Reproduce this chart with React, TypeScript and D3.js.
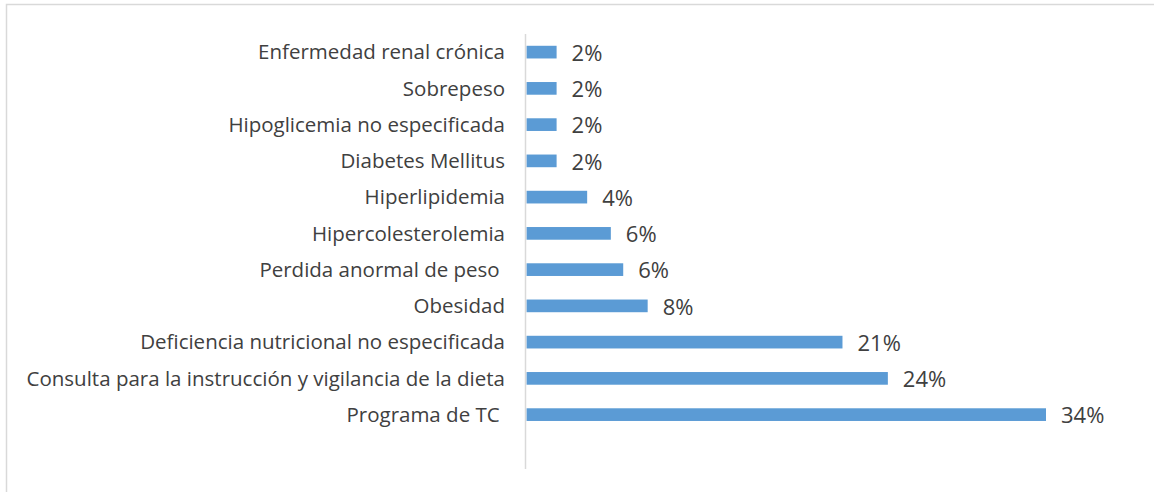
import React from "react";
import * as d3 from "d3";

const categories: string[] = [
  "Enfermedad renal crónica",
  "Sobrepeso",
  "Hipoglicemia no especificada",
  "Diabetes Mellitus",
  "Hiperlipidemia",
  "Hipercolesterolemia",
  "Perdida anormal de peso ",
  "Obesidad",
  "Deficiencia nutricional no especificada",
  "Consulta para la instrucción y vigilancia de la dieta",
  "Programa de TC ",
];

const values: number[] = [
  0.0197, 0.0197, 0.0197, 0.0197, 0.0397, 0.0552, 0.0633, 0.0793, 0.2068, 0.2365, 0.34,
];

const W = 1154;
const H = 492;
const axisX = 526.5;
const top = 34;
const step = 36.25;

export default function App() {
  const x = d3.scaleLinear().domain([0, 0.34]).range([axisX, 1046]);
  const y = d3
    .scaleBand<string>()
    .domain(categories)
    .range([top, top + step * categories.length])
    .paddingInner(0.65)
    .paddingOuter(0.325);
  const fmt = d3.format(".0%");
  const font = "'Open Sans', sans-serif";
  const axisBottom = top + step * (categories.length + 1);

  return (
    <div style={{ position: "absolute", left: 0, top: 0 }}>
      <svg width={W} height={H} style={{ display: "block" }}>
        <rect x={0} y={0} width={W} height={H} fill="#fff" />
        <rect x={6.5} y={4.5} width={W + 20} height={H + 20} fill="none" stroke="#d9d9d9" strokeWidth={1.5} />
        {categories.map((c, i) => {
          const yc = (y(c) as number) + y.bandwidth() / 2;
          return (
            <g key={i}>
              <rect
                x={x(0)}
                y={y(c)}
                width={x(values[i]) - x(0)}
                height={y.bandwidth()}
                fill="#5B9BD5"
              />
              <text
                x={505}
                y={yc}
                dy="0.35em"
                textAnchor="end"
                fontFamily={font}
                fontSize={20.5}
                fill="#404040"
                style={{ whiteSpace: "pre" }}
              >
                {c}
              </text>
              <text
                x={x(values[i]) + 15}
                y={yc + 1}
                dy="0.35em"
                textAnchor="start"
                fontFamily={font}
                fontSize={22}
                fill="#404040"
              >
                {fmt(values[i])}
              </text>
            </g>
          );
        })}
        <line x1={axisX - 1} x2={axisX - 1} y1={top} y2={axisBottom} stroke="#d9d9d9" strokeWidth={1.5} />
      </svg>
    </div>
  );
}
